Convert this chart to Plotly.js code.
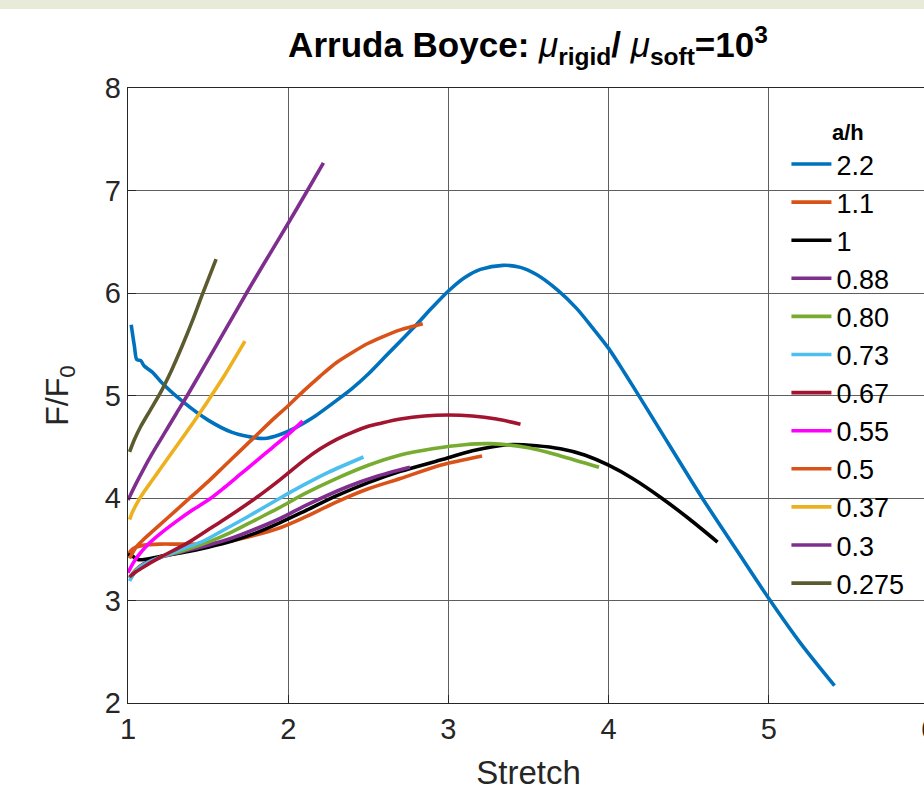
<!DOCTYPE html>
<html>
<head>
<meta charset="utf-8">
<script src="https://cdn.plot.ly/plotly-3.0.1.min.js"></script>
<style>
  html, body { margin: 0; padding: 0; overflow: hidden; background: #ffffff; }
  #strip { position: absolute; left: 0; top: 0; width: 924px; height: 9px; background: #e8ebd8; z-index: 5; }
  #chart { position: absolute; left: 0; top: 0; }
</style>
</head>
<body>
<div id="strip"></div>
<div id="chart"></div>
<script>
// Force ratio F/F0 against stretch for several a/h values (Arruda-Boyce model)
const labels = ['2.2', '1.1', '1', '0.88', '0.80', '0.73', '0.67', '0.55', '0.5', '0.37', '0.3', '0.275'];
const colors = ['#0072BD', '#D95319', '#000000', '#7E2F8E', '#77AC30', '#4DBEEE',
                '#A2142F', '#FF00FF', '#D95319', '#EDB120', '#7E2F8E', '#5B5B2F'];

const x_22 = [1.02, 1.04, 1.055, 1.08, 1.1, 1.15, 1.22, 1.35, 1.5, 1.65, 1.75, 1.85, 1.95, 2.05, 2.15, 2.3, 2.4, 2.5, 2.6, 2.7, 2.8, 2.9, 3.0, 3.1, 3.2, 3.34, 3.45, 3.55, 3.68, 3.8, 3.9, 4.0, 4.1, 4.2, 4.33, 4.58, 4.8, 5.0, 5.2, 5.41];
const y_22 = [5.69, 5.48, 5.35, 5.34, 5.29, 5.23, 5.11, 4.93, 4.76, 4.64, 4.60, 4.58, 4.62, 4.69, 4.78, 4.95, 5.07, 5.21, 5.37, 5.53, 5.69, 5.86, 6.02, 6.15, 6.23, 6.27, 6.25, 6.18, 6.03, 5.85, 5.66, 5.46, 5.22, 4.97, 4.64, 4.01, 3.49, 3.02, 2.58, 2.17];

const x_11 = [1.0, 1.02, 1.05, 1.1, 1.2, 1.3, 1.4, 1.5, 1.6, 1.75, 1.95, 2.1, 2.3, 2.5, 2.7, 2.95, 3.21];
const y_11 = [3.44, 3.49, 3.52, 3.54, 3.55, 3.55, 3.55, 3.55, 3.57, 3.62, 3.71, 3.81, 3.96, 4.09, 4.19, 4.32, 4.41];

const x_1 = [1.0, 1.03, 1.06, 1.1, 1.2, 1.35, 1.5, 1.65, 1.8, 1.95, 2.1, 2.3, 2.5, 2.7, 2.95, 3.15, 3.37, 3.55, 3.7, 3.85, 4.0, 4.15, 4.33, 4.5, 4.68];
const y_1 = [3.45, 3.43, 3.40, 3.40, 3.43, 3.47, 3.52, 3.58, 3.66, 3.76, 3.87, 4.02, 4.15, 4.26, 4.37, 4.46, 4.52, 4.51, 4.48, 4.42, 4.32, 4.19, 4.00, 3.80, 3.57];

const x_088 = [1.01, 1.05, 1.1, 1.2, 1.35, 1.5, 1.65, 1.8, 1.95, 2.1, 2.37, 2.55, 2.76];
const y_088 = [3.22, 3.30, 3.36, 3.42, 3.48, 3.54, 3.61, 3.70, 3.80, 3.92, 4.11, 4.21, 4.30];

const x_080 = [1.01, 1.05, 1.1, 1.2, 1.35, 1.5, 1.65, 1.8, 1.95, 2.1, 2.3, 2.5, 2.7, 2.9, 3.1, 3.26, 3.5, 3.7, 3.94];
const y_080 = [3.22, 3.30, 3.35, 3.42, 3.49, 3.57, 3.67, 3.79, 3.91, 4.04, 4.19, 4.32, 4.42, 4.48, 4.52, 4.53, 4.49, 4.41, 4.30];

const x_073 = [1.01, 1.04, 1.08, 1.15, 1.25, 1.35, 1.47, 1.6, 1.75, 1.95, 2.1, 2.25, 2.47];
const y_073 = [3.19, 3.27, 3.33, 3.39, 3.45, 3.51, 3.58, 3.69, 3.82, 4.00, 4.13, 4.25, 4.40];

const x_067 = [1.01, 1.05, 1.1, 1.2, 1.37, 1.5, 1.6, 1.78, 1.95, 2.1, 2.2, 2.3, 2.4, 2.5, 2.58, 2.7, 2.85, 3.0, 3.15, 3.3, 3.45];
const y_067 = [3.23, 3.28, 3.33, 3.42, 3.56, 3.69, 3.79, 3.98, 4.18, 4.37, 4.48, 4.57, 4.64, 4.70, 4.73, 4.77, 4.80, 4.81, 4.80, 4.77, 4.72];

const x_055 = [1.0, 1.03, 1.07, 1.12, 1.2, 1.3, 1.4, 1.51, 1.6, 1.7, 1.8, 1.9, 2.0, 2.09];
const y_055 = [3.27, 3.36, 3.45, 3.54, 3.65, 3.77, 3.88, 3.99, 4.10, 4.23, 4.36, 4.49, 4.62, 4.75];

const x_05 = [1.01, 1.05, 1.1, 1.2, 1.3, 1.4, 1.5, 1.6, 1.7, 1.8, 1.9, 2.0, 2.1, 2.2, 2.3, 2.4, 2.5, 2.6, 2.7, 2.84];
const y_05 = [3.41, 3.52, 3.60, 3.74, 3.88, 4.02, 4.16, 4.31, 4.46, 4.61, 4.76, 4.90, 5.05, 5.19, 5.32, 5.42, 5.51, 5.58, 5.64, 5.70];

const x_037 = [1.01, 1.03, 1.06, 1.1, 1.15, 1.2, 1.3, 1.4, 1.5, 1.6, 1.73];
const y_037 = [3.79, 3.87, 3.96, 4.06, 4.17, 4.28, 4.50, 4.72, 4.95, 5.19, 5.53];

const x_03 = [1.0, 1.05, 1.1, 1.15, 1.2, 1.25, 1.3, 1.37, 1.5, 1.6, 1.74, 1.85, 2.0, 2.12, 2.22];
const y_03 = [3.98, 4.14, 4.29, 4.43, 4.56, 4.69, 4.82, 5.00, 5.35, 5.62, 6.00, 6.29, 6.68, 7.00, 7.27];

const x_0275 = [1.01, 1.04, 1.08, 1.14, 1.2, 1.27, 1.34, 1.4, 1.46, 1.55];
const y_0275 = [4.45, 4.57, 4.70, 4.86, 5.02, 5.24, 5.49, 5.72, 5.97, 6.33];

const xs = [x_22, x_11, x_1, x_088, x_080, x_073, x_067, x_055, x_05, x_037, x_03, x_0275];
const ys = [y_22, y_11, y_1, y_088, y_080, y_073, y_067, y_055, y_05, y_037, y_03, y_0275];

const xTicks = [1, 2, 3, 4, 5, 6];
const yTicks = [2, 3, 4, 5, 6, 7, 8];

const FONT = 'Liberation Sans, Arial, Helvetica, sans-serif';

const traces = labels.map((lab, i) => ({
  x: xs[i],
  y: ys[i],
  type: 'scatter',
  mode: 'lines',
  name: lab,
  legendgroup: 'g' + i,
  line: { color: colors[i], width: 3.6, shape: 'spline', smoothing: 0.8 }
}));

const axisCommon = {
  showline: true,
  mirror: true,
  linecolor: '#262626',
  linewidth: 1.2,
  ticks: 'inside',
  ticklen: 8,
  tickcolor: '#262626',
  showgrid: true,
  gridcolor: '#5e5e5e',
  gridwidth: 1,
  zeroline: false,
  tickfont: { family: FONT, size: 29, color: '#262626' }
};

const layout = {
  width: 940,
  height: 791,
  margin: { l: 128, r: 11, t: 88, b: 88 },
  paper_bgcolor: '#ffffff',
  plot_bgcolor: '#ffffff',
  showlegend: true,
  title: {
    text: '<b>Arruda Boyce: </b><i>μ</i><b><sub>rigid</sub>/ </b><i>μ</i><b><sub>soft</sub>=10<sup>3</sup></b>',
    font: { family: FONT, size: 35, color: '#000000' },
    x: 528 / 940,
    xanchor: 'center',
    y: 1 - 45 / 791,
    yanchor: 'middle'
  },
  xaxis: Object.assign({}, axisCommon, {
    range: [1, 6],
    tickvals: xTicks,
    ticktext: xTicks.map(String),
    title: { text: 'Stretch', font: { family: FONT, size: 33, color: '#262626' }, standoff: 18 }
  }),
  yaxis: Object.assign({}, axisCommon, {
    range: [2, 8],
    tickvals: yTicks,
    ticktext: yTicks.map(String),
    title: { text: 'F/F<sub>0</sub>', font: { family: FONT, size: 32, color: '#262626' }, standoff: 26 }
  }),
  legend: {
    x: 0.822,
    xanchor: 'left',
    y: 0.962,
    yanchor: 'top',
    bgcolor: 'rgba(0,0,0,0)',
    borderwidth: 0,
    traceorder: 'grouped',
    tracegroupgap: 0,
    itemwidth: 40,
    font: { family: FONT, size: 27, color: '#000000' },
    title: { text: '<b>a/h</b>', side: 'top center', font: { family: FONT, size: 22, color: '#000000' } }
  }
};

Plotly.newPlot('chart', traces, layout, { displayModeBar: false, staticPlot: true });
</script>
</body>
</html>
